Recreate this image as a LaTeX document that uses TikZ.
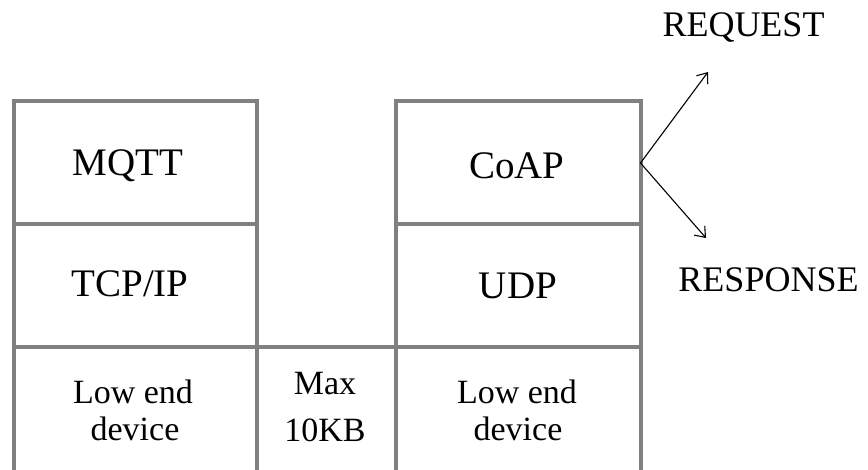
\documentclass[tikz,border=0pt]{standalone}
\usepackage{fontspec}
\setmainfont{Liberation Serif}
\usetikzlibrary{arrows.meta}
\definecolor{cellgray}{HTML}{808080}
\tikzset{
  cell/.style={draw=cellgray, line width=4pt, inner sep=0pt, outer sep=0pt},
  big/.style={anchor=base, inner sep=0pt, font=\fontsize{39}{42}\selectfont},
  small/.style={anchor=base, inner sep=0pt, font=\fontsize{34}{37}\selectfont},
  msg/.style={anchor=base, inner sep=0pt, font=\fontsize{36}{40}\selectfont},
  flow/.style={black, line width=1.1pt, -{Straight Barb[length=9pt,width=14pt]}}
}
\begin{document}
\begin{tikzpicture}[x=1pt,y=-1pt]
\useasboundingbox (0,0) rectangle (868,470);
% left stack
\draw[cell] (13.5,101.5) rectangle (257,224.5);
\draw[cell] (13.5,224.5) rectangle (257,347.5);
\draw[cell] (13.5,347.5) rectangle (257,480);
% middle cell
\draw[cell] (257,347.5) rectangle (395.5,480);
% right stack
\node[cell, minimum width=245pt, minimum height=123pt] (coap) at (518,163) {};
\draw[cell] (395.5,224.5) rectangle (640.5,347.5);
\draw[cell] (395.5,347.5) rectangle (640.5,480);
% labels
\node[big] (mqtt) at (128,176) {MQTT};
\node[big] (tcp) at (130,297) {TCP/IP};
\node[small] (low1a) at (133,403) {Low end};
\node[small] (low1b) at (135,440) {device};
\node[small] (max1) at (325,395) {Max};
\node[small] (max2) at (325,441) {10KB};
\node[big] (coapt) at (517,179) {CoAP};
\node[big] (udp) at (518,299) {UDP};
\node[small] (low2a) at (517,403) {Low end};
\node[small] (low2b) at (518,440) {device};
% messages
\node[msg] (req) at (743.5,37) {REQUEST};
\node[msg] (resp) at (768.5,292) {RESPONSE};
\coordinate (reqtip) at (708,72);
\coordinate (resptip) at (706,238);
\draw[flow] (coap.east) -- (reqtip);
\draw[flow] (coap.east) -- (resptip);
\end{tikzpicture}
\end{document}
